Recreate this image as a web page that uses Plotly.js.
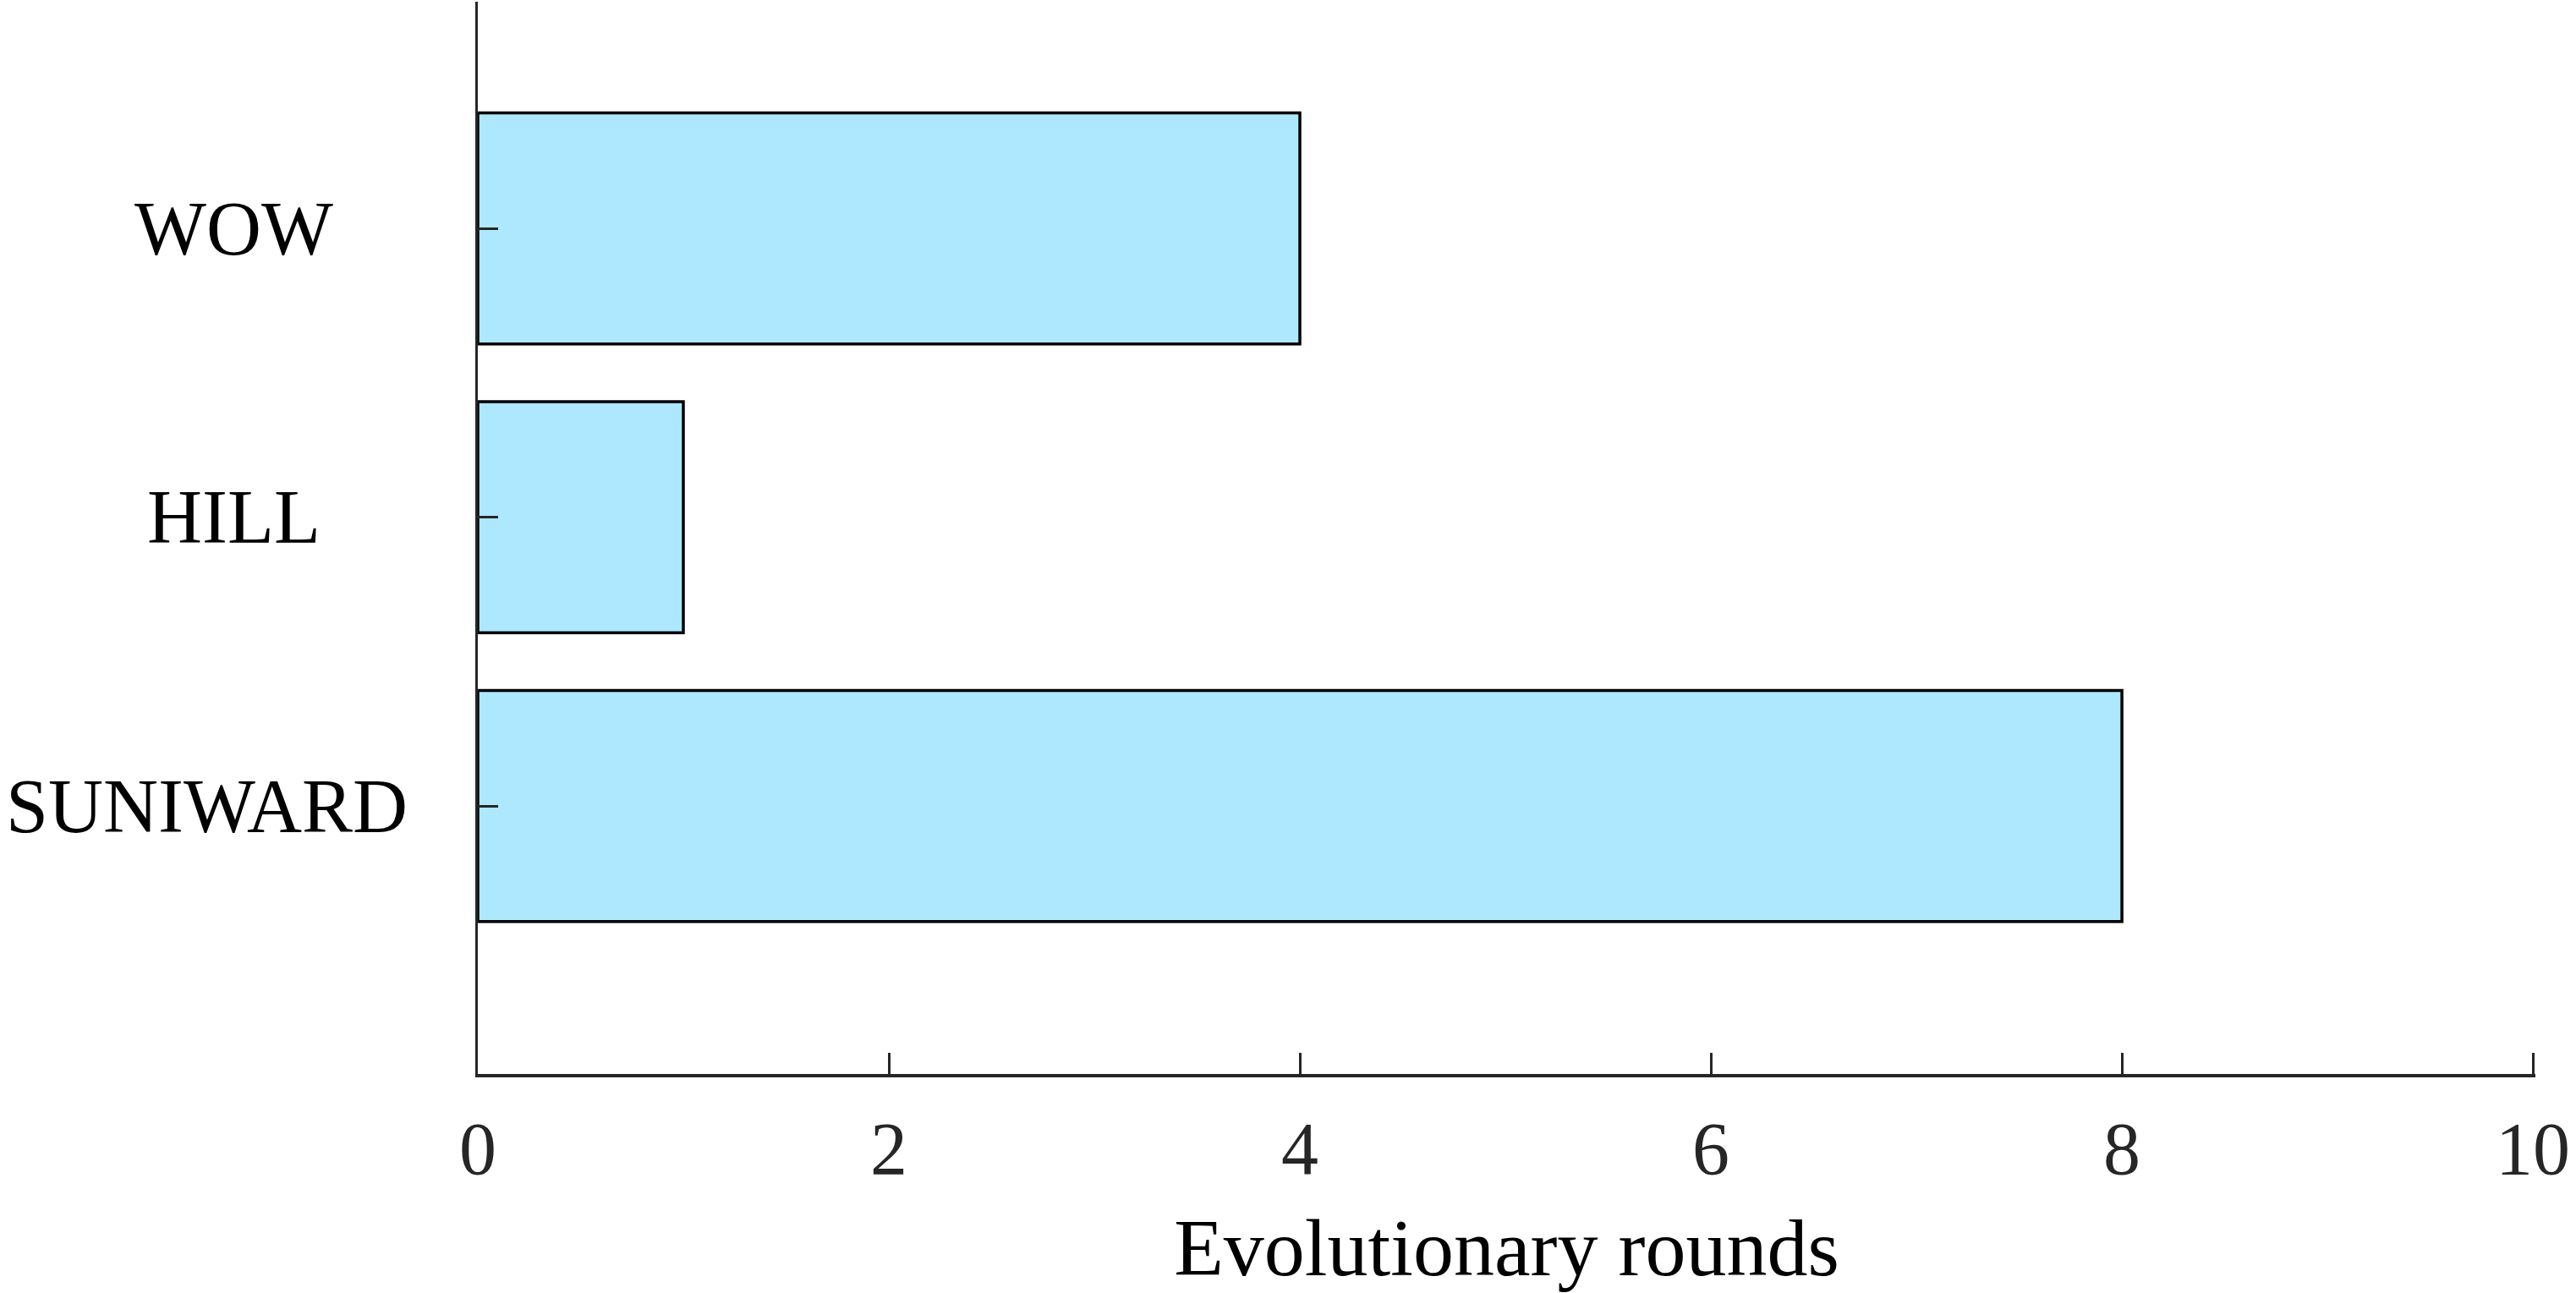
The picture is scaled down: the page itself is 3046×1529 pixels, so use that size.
<!DOCTYPE html>
<html>
<head>
<meta charset="utf-8">
<script src="https://cdn.plot.ly/plotly-3.0.1.min.js"></script>
<style>
  html, body { margin: 0; padding: 0; background: #ffffff; }
  #chart { width: 3046px; height: 1529px; }
</style>
</head>
<body>
<div id="chart"></div>
<script>
// ---- data ----
const categories = ['SUNIWARD', 'HILL', 'WOW'];
const rounds = [8, 1, 4];
const xTickValues = [0, 2, 4, 6, 8, 10];
const xTickLabels = ['0', '2', '4', '6', '8', '10'];
const xTitle = 'Evolutionary rounds';
// label placement (paper x) for category labels
const labelX = [-0.1317, -0.1185, -0.1185];

const W = 3046, H = 1529;
const xMax = 10.012;
const marginL = 565, marginT = 2, marginB = 259;
const marginR = Math.round(W - (marginL + (2995 - marginL) * xMax / 10));
const serif = '"Liberation Serif", "DejaVu Serif", serif';

const trace = {
  type: 'bar',
  orientation: 'h',
  y: categories,
  x: rounds,
  marker: { color: '#ade8ff', line: { color: '#000000', width: 3.5 } },
  width: 0.8,
  hoverinfo: 'none'
};

const annotations = categories.map((c, i) => ({
  xref: 'paper', yref: 'y',
  x: labelX[i], y: c,
  text: c,
  showarrow: false,
  xanchor: 'center', yanchor: 'middle',
  font: { family: serif, size: 90, color: '#000000' }
}));

const layout = {
  width: W, height: H,
  margin: { l: marginL, r: marginR, t: marginT, b: marginB, pad: 0 },
  paper_bgcolor: '#ffffff',
  plot_bgcolor: '#ffffff',
  showlegend: false,
  xaxis: {
    range: [0, xMax],
    tickvals: xTickValues,
    ticktext: xTickLabels,
    ticks: 'inside',
    ticklen: 25,
    tickwidth: 3,
    tickcolor: '#262626',
    showline: true,
    linecolor: '#262626',
    linewidth: 3.5,
    showgrid: false,
    zeroline: false,
    ticklabelstandoff: 9,
    tickfont: { family: serif, size: 88, color: '#262626' },
    title: { text: xTitle, font: { family: serif, size: 96, color: '#000000' }, standoff: 42 },
    automargin: false
  },
  yaxis: {
    type: 'category',
    range: [-0.928, 2.785],
    ticks: 'inside',
    ticklen: 24,
    tickwidth: 3,
    tickcolor: '#262626',
    showline: true,
    linecolor: '#262626',
    linewidth: 3.5,
    showgrid: false,
    zeroline: false,
    showticklabels: false,
    automargin: false
  },
  annotations: annotations
};

Plotly.newPlot('chart', [trace], layout, { staticPlot: true, displayModeBar: false });
</script>
</body>
</html>
